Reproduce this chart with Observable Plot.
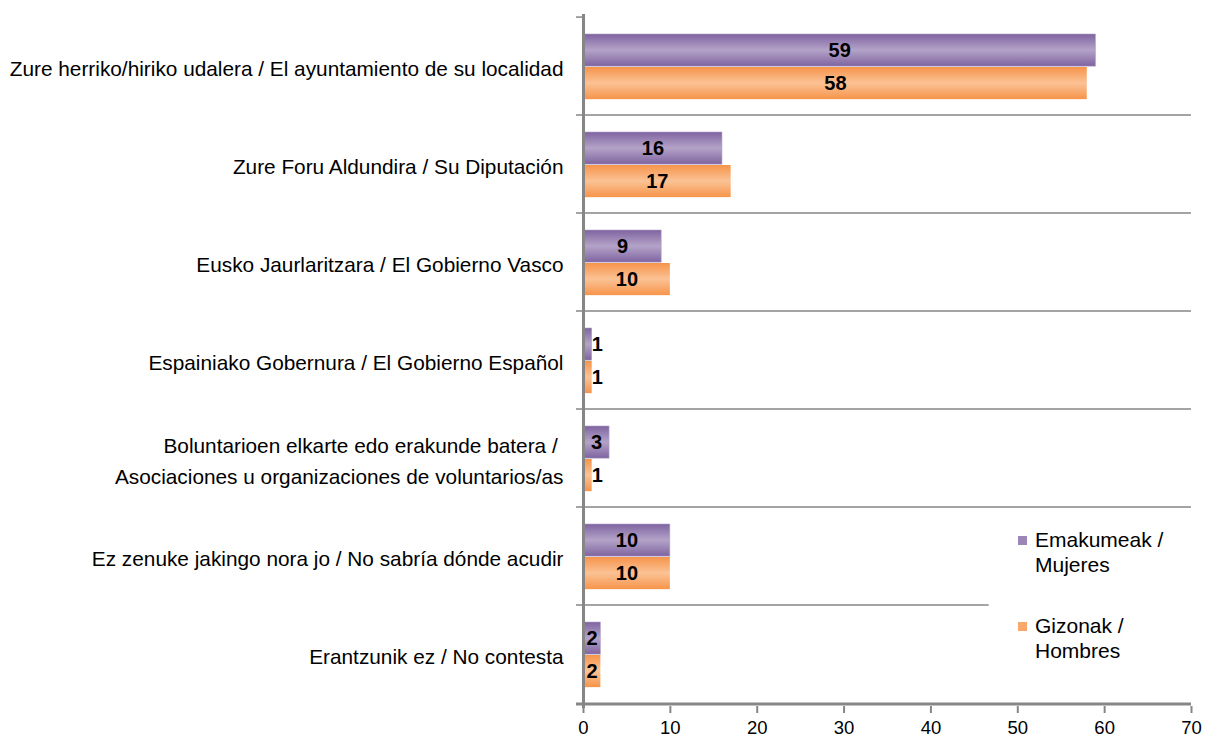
<!DOCTYPE html>
<html>
<head>
<meta charset="utf-8">
<script src="https://cdn.jsdelivr.net/npm/d3@7"></script>
<script src="https://cdn.jsdelivr.net/npm/@observablehq/plot@0.6"></script>
<style>
  html, body { margin: 0; padding: 0; background: #fff; }
  #wrap { position: relative; width: 1206px; height: 738px; font-family: "Liberation Sans", Arial, sans-serif; }
  #legend { position: absolute; left: 1018px; top: 527px; font-size: 21px; color: #000; line-height: 25px; }
  .li { display: flex; align-items: flex-start; margin-bottom: 36px; }
  .sw { width: 9px; height: 9px; margin-top: 9px; margin-right: 8px; }
</style>
</head>
<body>
<div id="wrap"></div>
<script>
const categories = [
  "Zure herriko/hiriko udalera / El ayuntamiento de su localidad",
  "Zure Foru Aldundira / Su Diputación",
  "Eusko Jaurlaritzara / El Gobierno Vasco",
  "Espainiako Gobernura / El Gobierno Español",
  "Boluntarioen elkarte edo erakunde batera /\u00a0\nAsociaciones u organizaciones de voluntarios/as",
  "Ez zenuke jakingo nora jo / No sabría dónde acudir",
  "Erantzunik ez / No contesta"
];
const mujeres = [59, 16, 9, 1, 3, 10, 2];
const hombres = [58, 17, 10, 1, 1, 10, 2];
const seriesNames = ["Emakumeak /\nMujeres", "Gizonak /\nHombres"];
const xTicks = [0, 10, 20, 30, 40, 50, 60, 70];

const W = 1206, H = 738, mT = 14, mB = 32, mL = 583, mR = 15;
const innerH = H - mT - mB;
const step = innerH / categories.length;
const gray = "#868686";

const dataM = categories.map((c, i) => ({cat: c, v: mujeres[i]}));
const dataH = categories.map((c, i) => ({cat: c, v: hombres[i]}));
const labelX = d => d.v < 2 ? 1.6 : d.v / 2;
const first = categories[0], last = categories[categories.length - 1];

const chart = Plot.plot({
  width: W, height: H,
  marginTop: mT, marginBottom: mB, marginLeft: mL, marginRight: mR,
  style: {fontFamily: "Liberation Sans, Arial, sans-serif", background: "#fff", color: "#000"},
  x: {domain: [0, 70], label: null, axis: null},
  y: {domain: categories, padding: 0, axis: null},
  marks: [
    Plot.ruleY(categories, {
      y: d => d, dy: -step / 2,
      x1: 0, x2: d => d === first ? 0 : (d === last ? 46.7 : 70),
      insetLeft: -7, stroke: gray, strokeWidth: 1.5
    }),
    Plot.ruleY([last], {y: d => d, dy: step / 2, insetLeft: -7, stroke: gray, strokeWidth: 3}),
    Plot.barX(dataM, {x: "v", y: "cat", fill: "url(#gradM)", stroke: "#b3a2c7", strokeWidth: 0.6, insetTop: 17, insetBottom: step - 50}),
    Plot.barX(dataH, {x: "v", y: "cat", fill: "url(#gradH)", insetTop: 50, insetBottom: step - 83}),
    Plot.ruleX([0], {stroke: gray, strokeWidth: 3, insetBottom: -2}),
    // x ticks
    Plot.ruleX(xTicks, {x: d => d, insetTop: innerH, insetBottom: -7, stroke: gray, strokeWidth: 2}),
    // x tick labels
    Plot.text(xTicks, {x: d => d, text: d => String(d), frameAnchor: "bottom", dy: 22, lineAnchor: "middle", fontSize: 18.5, fill: "#000"}),
    // category labels
    Plot.text(categories, {
      y: d => d, frameAnchor: "left", dx: -20, textAnchor: "end",
      fontSize: 20.8, lineHeight: 1.47, fill: "#000"
    }),
    Plot.text(dataM, {x: labelX, y: "cat", text: d => String(d.v), dy: -16, fontSize: 20, fontWeight: "bold", fill: "#000"}),
    Plot.text(dataH, {x: labelX, y: "cat", text: d => String(d.v), dy: 17, fontSize: 20, fontWeight: "bold", fill: "#000"})
  ]
});

const ns = "http://www.w3.org/2000/svg";
const defs = document.createElementNS(ns, "defs");
function grad(id, edge, mid) {
  const g = document.createElementNS(ns, "linearGradient");
  g.setAttribute("id", id);
  g.setAttribute("x1", "0"); g.setAttribute("y1", "0");
  g.setAttribute("x2", "0"); g.setAttribute("y2", "1");
  [[0, edge], [0.5, mid], [1, edge]].forEach(([o, c]) => {
    const s = document.createElementNS(ns, "stop");
    s.setAttribute("offset", o);
    s.setAttribute("stop-color", c);
    g.appendChild(s);
  });
  defs.appendChild(g);
}
grad("gradM", "#7f64a0", "#b4a3c8");
grad("gradH", "#f6944a", "#fbc295");
chart.insertBefore(defs, chart.firstChild);

const wrap = document.getElementById("wrap");
wrap.appendChild(chart);

const legend = document.createElement("div");
legend.id = "legend";
const swatchColors = ["#9c86b8", "#f9a86c"];
seriesNames.forEach((n, i) => {
  const li = document.createElement("div");
  li.className = "li";
  const sw = document.createElement("div");
  sw.className = "sw";
  sw.style.background = swatchColors[i];
  const tx = document.createElement("div");
  tx.innerHTML = n.replace("\n", "<br>");
  li.appendChild(sw); li.appendChild(tx);
  legend.appendChild(li);
});
wrap.appendChild(legend);
</script>
</body>
</html>
